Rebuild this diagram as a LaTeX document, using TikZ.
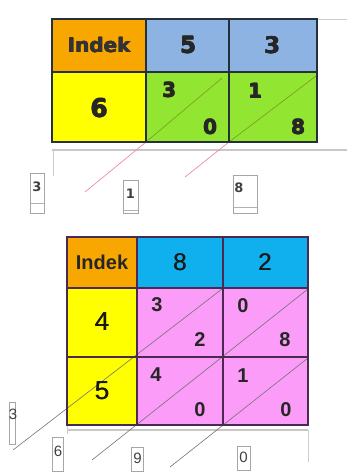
\documentclass[tikz,border=0pt]{standalone}
\usepackage{fontspec}
\setmainfont{Liberation Sans}
\newfontfamily\dvs{DejaVu Sans}
\newcommand\heavytxt[1]{\rlap{#1}\kern0.7pt\rlap{#1}\kern-0.35pt\rlap{\raisebox{0.35pt}{#1}}\raisebox{-0.35pt}{#1}}
\newcommand\semitxt[1]{\rlap{#1}\kern0.45pt{#1}}
\definecolor{orng}{HTML}{F8A700}
\definecolor{bluegray}{HTML}{8DB3E2}
\definecolor{yel}{HTML}{FFFF00}
\definecolor{grn}{HTML}{92E531}
\definecolor{cyn}{HTML}{10B0EE}
\definecolor{pnk}{HTML}{FA9CF8}
\definecolor{topline}{HTML}{26303C}
\definecolor{botline}{HTML}{4A2A50}
\definecolor{pinkline}{HTML}{F08AA0}
\definecolor{olive}{HTML}{7A9A20}
\tikzset{
  tcell/.style={draw=topline, line width=1.3pt},
  bcell/.style={draw=botline, line width=1.2pt},
  ttxt/.style={font=\dvs\bfseries\fontsize{23}{23}\selectfont, text=black!85, inner sep=0pt},
  tsml/.style={font=\dvs\bfseries\fontsize{20}{20}\selectfont, text=black!85, inner sep=0pt},
  btxt/.style={font=\fontsize{24}{24}\selectfont, text=black!90, inner sep=0pt},
  bsml/.style={font=\bfseries\fontsize{20}{20}\selectfont, text=black!85, inner sep=0pt},
  boxd/.style={draw=black!35, line width=0.5pt, inner sep=1pt, anchor=north},
  tdig/.style={inner sep=0pt, font=\dvs\bfseries\fontsize{13}{13}\selectfont, text=black!75},
  bdig/.style={inner sep=0pt, font=\fontsize{15}{15}\selectfont, text=black!75},
  faint/.style={draw=black!22, line width=1.5pt},
  faintv/.style={draw=black!20, line width=0.7pt},
}
\begin{document}
\begin{tikzpicture}[x=1pt,y=-1pt]
\useasboundingbox (0,0) rectangle (347,473);
% ---------------- top table ----------------
\fill[orng] (52,19) rectangle (146,72);
\fill[bluegray] (146,19) rectangle (317,72);
\fill[yel] (52,72) rectangle (146,142);
\fill[grn] (146,72) rectangle (317,142);
\draw[faint] (52,150) -- (347,150);
\draw[faintv] (317,19) -- (347,19);
\draw[faintv] (53,150) -- (53,176);
% diagonals
\draw[pinkline, line width=0.7pt] (146,142) -- (85,192);
\draw[pinkline, line width=0.7pt] (229,142) -- (185,177);
\draw[olive, line width=0.6pt] (222,78) -- (146,142);
\draw[olive, line width=0.6pt] (316,76) -- (229,142);
\draw[tcell] (52,19) rectangle (317,142);
\draw[tcell] (52,72) -- (317,72);
\draw[tcell] (146,19) -- (146,142);
\draw[tcell] (229,19) -- (229,142);
\node[font=\dvs\bfseries\fontsize{20}{20}\selectfont, text=black!80, inner sep=0pt] (tind) at (99,45) {\heavytxt{Indek}};
\node[ttxt] (t5) at (188,45) {\heavytxt{5}};
\node[ttxt] (t3) at (272,45) {\heavytxt{3}};
\node[ttxt, font=\dvs\bfseries\fontsize{25}{25}\selectfont] (t6) at (99,108) {\heavytxt{6}};
\node[tsml] (ta) at (169,90) {\heavytxt{3}};
\node[tsml] (tb) at (210,127) {\heavytxt{0}};
\node[tsml] (tc) at (255,91) {\heavytxt{1}};
\node[tsml] (td) at (298,127) {\heavytxt{8}};
% result boxes
\node[boxd, minimum width=14pt, minimum height=40pt] (r1) at (37,173) {};
\node[tdig] (r1t) at (37,187) {3};
\draw[black!30, line width=0.5pt] (30,203) -- (44,203);
\node[boxd, minimum width=15pt, minimum height=33pt] (r2) at (130.5,180) {};
\node[tdig] (r2t) at (130.5,194) {1};
\draw[black!30, line width=0.5pt] (123,210) -- (138,210);
\node[boxd, minimum width=24pt, minimum height=38pt] (r3) at (245,175) {};
\node[tdig] (r3t) at (239,188) {8};
\draw[black!30, line width=0.5pt] (233,207) -- (257,207);
% ---------------- bottom table ----------------
\fill[orng] (67,237) rectangle (137,288);
\fill[cyn] (137,237) rectangle (308,288);
\fill[yel] (67,288) rectangle (137,425);
\fill[pnk] (137,288) rectangle (308,425);
\draw[faint] (67,430) -- (308,430);
\draw[faintv] (308,430) -- (308,462);
\draw[faintv] (67,425) -- (67,434);
% diagonals
\draw[black!55, line width=0.6pt] (222,289) -- (13,450);
\draw[black!55, line width=0.6pt] (308,289) -- (92,460);
\draw[black!55, line width=0.6pt] (308,358) -- (170,467);
\draw[bcell] (67,237) rectangle (308,425);
\draw[bcell] (67,288) -- (308,288);
\draw[bcell] (67,357) -- (308,357);
\draw[bcell] (137,237) -- (137,425);
\draw[bcell] (223,237) -- (223,425);
\node[font=\bfseries\fontsize{20}{20}\selectfont, text=black!85, inner sep=0pt] (bind) at (102,262) {Indek};
\node[btxt] (b8) at (180,262) {\semitxt{8}};
\node[btxt] (b2) at (265,262) {\semitxt{2}};
\node[btxt, font=\fontsize{26}{26}\selectfont] (b4) at (102,322) {\semitxt{4}};
\node[btxt, font=\fontsize{26}{26}\selectfont] (b5) at (102,391) {\semitxt{5}};
\node[bsml] (p1) at (157,305) {3};
\node[bsml] (p2) at (200,340) {2};
\node[bsml] (p3) at (243,306) {0};
\node[bsml] (p4) at (285,340) {8};
\node[bsml] (p5) at (156,375) {4};
\node[bsml] (p6) at (200,410) {0};
\node[bsml] (p7) at (243,376) {1};
\node[bsml] (p8) at (286,410) {0};
% result boxes bottom
\node[boxd, minimum width=6pt, minimum height=42pt] (s1) at (12,402) {};
\node[bdig] (s1t) at (13,414) {3};
\node[boxd, minimum width=11pt, minimum height=34pt] (s2) at (58,437) {};
\node[bdig] (s2t) at (58,451) {6};
\node[boxd, minimum width=12pt, minimum height=24pt] (s3) at (137.5,447) {};
\node[bdig] (s3t) at (137.5,458) {9};
\node[boxd, minimum width=13pt, minimum height=24pt] (s4) at (243.5,446) {};
\node[bdig] (s4t) at (243.5,457) {0};
\end{tikzpicture}
\end{document}
